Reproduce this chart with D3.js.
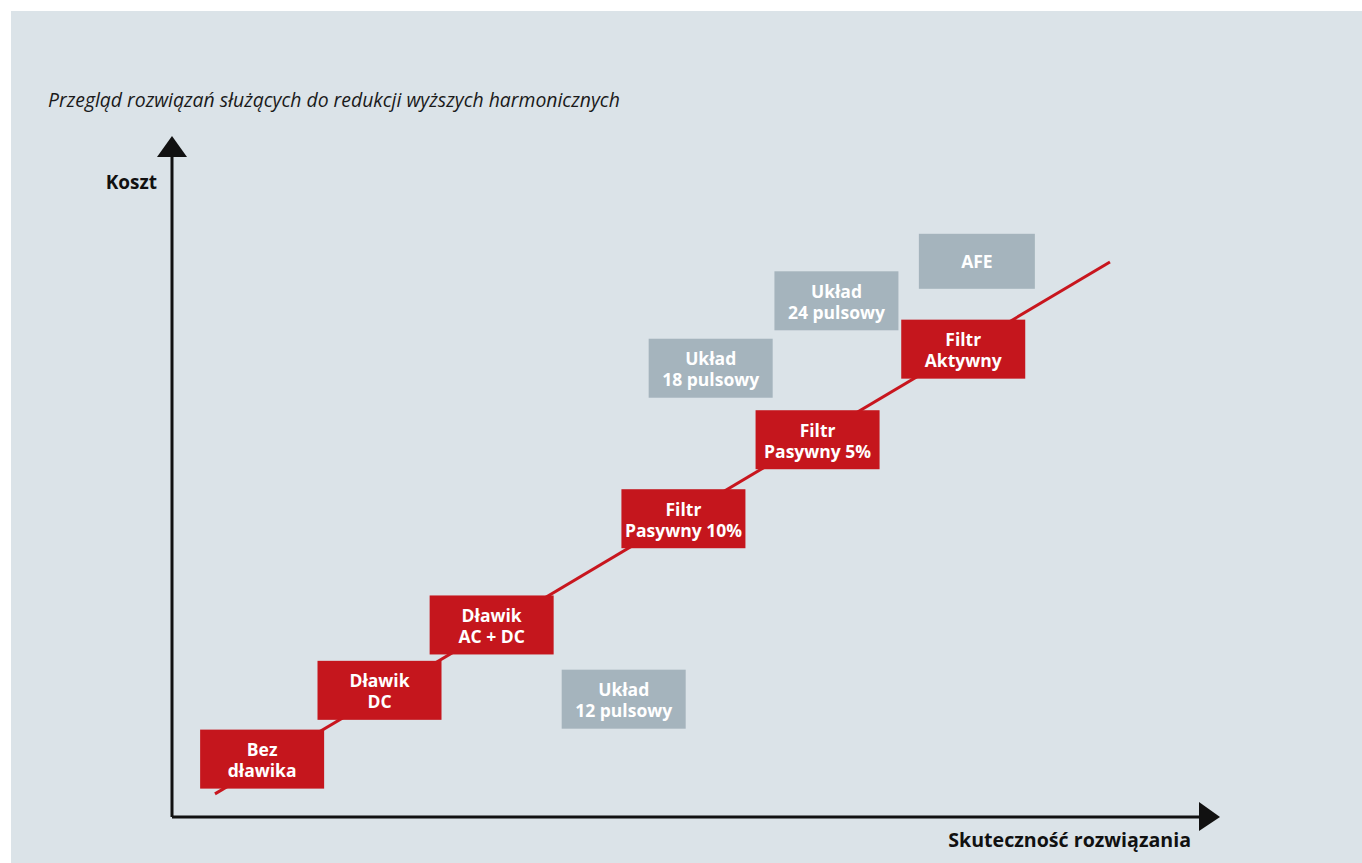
<!DOCTYPE html>
<html>
<head>
<meta charset="utf-8">
<script src="https://cdn.jsdelivr.net/npm/d3@7"></script>
<style>
  html, body { margin: 0; padding: 0; background: #fff; }
  svg { display: block; }
  text { font-family: "Open Sans", "Noto Sans", sans-serif; }
</style>
</head>
<body>
<div id="wrapper"></div>
<script>
// data
const title = "Przegląd rozwiązań służących do redukcji wyższych harmonicznych"
const yLabel = "Koszt"
const xLabel = "Skuteczność rozwiązania"

// solutions on the trend line (red)
const mainLabels = [["Bez", "dławika"], ["Dławik", "DC"], ["Dławik", "AC + DC"],
  ["Filtr", "Pasywny 10%"], ["Filtr", "Pasywny 5%"], ["Filtr", "Aktywny"]]
const mainEffect = [8.6, 19.8, 30.5, 48.8, 61.6, 75.5]
const mainCost = [8.5, 18.6, 28.2, 43.8, 55.4, 68.7]

// alternative solutions (grey)
const altLabels = [["Układ", "12 pulsowy"], ["Układ", "18 pulsowy"], ["Układ", "24 pulsowy"], ["AFE"]]
const altEffect = [43.1, 51.4, 63.4, 76.8]
const altCost = [17.3, 65.9, 75.8, 81.6]

// trend line end points
const trendEffect = [4.1, 89.5]
const trendCost = [3.4, 81.5]

function drawChart() {
  let dimensions = {
    width: 1362,
    height: 863,
    originX: 172,
    originY: 817,
    xEnd: 1220,
    yEnd: 136,
  }

  const xScale = d3.scaleLinear()
    .domain([0, 100])
    .range([dimensions.originX, dimensions.xEnd])

  const yScale = d3.scaleLinear()
    .domain([0, 100])
    .range([dimensions.originY, dimensions.yEnd])

  const svg = d3.select("#wrapper")
    .append("svg")
    .attr("width", dimensions.width)
    .attr("height", dimensions.height)

  svg.append("rect")
    .attr("x", 11)
    .attr("y", 11)
    .attr("width", dimensions.width - 11)
    .attr("height", dimensions.height - 11)
    .attr("fill", "#dbe3e8")

  svg.append("text")
    .attr("x", 48)
    .attr("y", 107)
    .attr("font-size", 19.4)
    .attr("font-style", "italic")
    .attr("fill", "#1a1a1a")
    .text(title)

  // axes with arrows
  const axisColor = "#111"
  svg.append("path")
    .attr("d", `M${xScale(0)},${yScale(0)} L${xScale(0)},${yScale(100) + 18} M${xScale(0)},${yScale(0)} L${xScale(100) - 18},${yScale(0)}`)
    .attr("fill", "none")
    .attr("stroke", axisColor)
    .attr("stroke-width", 3)

  svg.append("path")
    .attr("d", `M${xScale(0)},${yScale(100)} L${xScale(0) - 15},${yScale(100) + 21} L${xScale(0) + 15},${yScale(100) + 21} Z`)
    .attr("fill", axisColor)

  svg.append("path")
    .attr("d", `M${xScale(100)},${yScale(0)} L${xScale(100) - 21},${yScale(0) - 15} L${xScale(100) - 21},${yScale(0) + 14} Z`)
    .attr("fill", axisColor)

  svg.append("text")
    .attr("x", xScale(0) - 15)
    .attr("y", 189)
    .attr("text-anchor", "end")
    .attr("font-size", 19)
    .attr("font-weight", 700)
    .attr("fill", "#111")
    .text(yLabel)

  svg.append("text")
    .attr("x", 1191)
    .attr("y", 847)
    .attr("text-anchor", "end")
    .attr("font-size", 19.6)
    .attr("font-weight", 700)
    .attr("fill", "#111")
    .text(xLabel)

  // trend line
  const lineGenerator = d3.line()
    .x(d => xScale(d[0]))
    .y(d => yScale(d[1]))

  svg.append("path")
    .attr("d", lineGenerator(d3.zip(trendEffect, trendCost)))
    .attr("fill", "none")
    .attr("stroke", "#c8161e")
    .attr("stroke-width", 3)

  const boxes = [
    ...mainLabels.map((l, i) => ({ lines: l, x: mainEffect[i], y: mainCost[i], fill: "#c5161d" })),
    ...altLabels.map((l, i) => ({ lines: l, x: altEffect[i], y: altCost[i], fill: "#a5b4bd" })),
  ]

  const box = svg.selectAll(".box")
    .data(boxes)
    .join("g")
    .attr("class", "box")
    .attr("transform", d => `translate(${xScale(d.x)},${yScale(d.y)})`)

  box.append("rect")
    .attr("x", d => d.lines.length > 1 ? -62 : -58)
    .attr("y", d => d.lines.length > 1 ? -29.5 : -27.5)
    .attr("width", d => d.lines.length > 1 ? 124 : 116)
    .attr("height", d => d.lines.length > 1 ? 59 : 55)
    .attr("fill", d => d.fill)

  box.selectAll("text")
    .data(d => d.lines.map((t, i) => ({ t, i, n: d.lines.length })))
    .join("text")
    .attr("text-anchor", "middle")
    .attr("y", d => d.n > 1 ? -3 + d.i * 21 : 6.5)
    .attr("font-size", 17.5)
    .attr("font-weight", 700)
    .attr("fill", "#fff")
    .text(d => d.t)
}

drawChart()
</script>
</body>
</html>
